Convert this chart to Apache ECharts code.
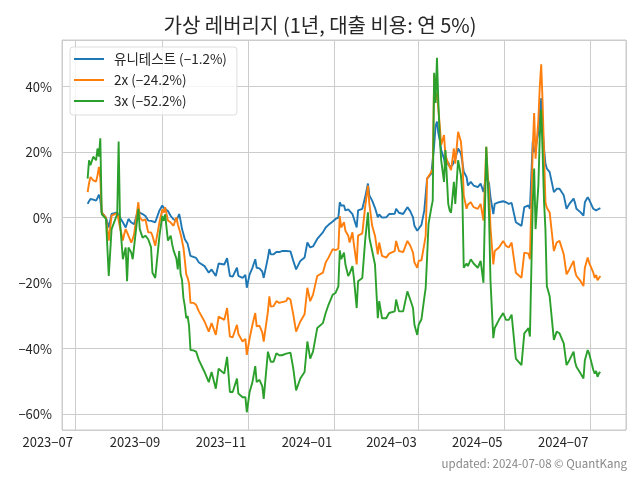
<!DOCTYPE html>
<html><head><meta charset="utf-8">
<script src="https://cdn.jsdelivr.net/npm/echarts@6/dist/echarts.min.js"></script>
<style>html,body{margin:0;padding:0;background:#fff}#c{width:640px;height:480px}</style>
</head><body><div id="c"></div>
<script>
const dates = [
'2023-07-10','2023-07-11','2023-07-12','2023-07-14','2023-07-16','2023-07-17','2023-07-18','2023-07-19','2023-07-20','2023-07-23',
'2023-07-25','2023-07-27','2023-07-31','2023-08-01','2023-08-02','2023-08-04','2023-08-05','2023-08-06','2023-08-07','2023-08-08',
'2023-08-10','2023-08-11','2023-08-12','2023-08-15','2023-08-16','2023-08-18','2023-08-20','2023-08-22','2023-08-24','2023-08-25',
'2023-08-27','2023-08-30','2023-09-01','2023-09-02','2023-09-03','2023-09-05','2023-09-07','2023-09-08','2023-09-09','2023-09-11',
'2023-09-12','2023-09-13','2023-09-14','2023-09-15','2023-09-16','2023-09-17','2023-09-18','2023-09-19','2023-09-20','2023-09-21',
'2023-09-23','2023-09-25','2023-09-27','2023-10-01','2023-10-04','2023-10-06','2023-10-09','2023-10-11','2023-10-12','2023-10-15',
'2023-10-17','2023-10-19','2023-10-21','2023-10-24','2023-10-25','2023-10-28','2023-10-30','2023-10-31','2023-11-02','2023-11-04',
'2023-11-06','2023-11-07','2023-11-09','2023-11-11','2023-11-12','2023-11-15','2023-11-16','2023-11-17','2023-11-19','2023-11-21',
'2023-11-23','2023-11-25','2023-11-28','2023-11-29','2023-12-01','2023-12-03','2023-12-05','2023-12-06','2023-12-08','2023-12-11',
'2023-12-13','2023-12-15','2023-12-17','2023-12-20','2023-12-24','2023-12-26','2023-12-28','2023-12-31','2024-01-02','2024-01-04',
'2024-01-05','2024-01-06','2024-01-08','2024-01-09','2024-01-11','2024-01-12','2024-01-14','2024-01-15','2024-01-17','2024-01-18',
'2024-01-21','2024-01-23','2024-01-25','2024-01-26','2024-01-28','2024-01-30','2024-02-01','2024-02-02','2024-02-04','2024-02-07',
'2024-02-09','2024-02-13','2024-02-14','2024-02-16','2024-02-19','2024-02-20','2024-02-22','2024-02-24','2024-02-26','2024-02-27',
'2024-02-29','2024-03-01','2024-03-03','2024-03-05','2024-03-06','2024-03-07','2024-03-08','2024-03-10','2024-03-11','2024-03-12',
'2024-03-13','2024-03-14','2024-03-15','2024-03-16','2024-03-17','2024-03-19','2024-03-20','2024-03-22','2024-03-23','2024-03-24',
'2024-03-25','2024-03-26','2024-03-27','2024-03-29','2024-03-31','2024-04-01','2024-04-02','2024-04-04','2024-04-05','2024-04-07',
'2024-04-09','2024-04-12','2024-04-14','2024-04-16','2024-04-18','2024-04-19','2024-04-20','2024-04-21','2024-04-23','2024-04-24',
'2024-04-27','2024-04-30','2024-05-02','2024-05-04','2024-05-06','2024-05-09','2024-05-13','2024-05-15','2024-05-18','2024-05-19',
'2024-05-21','2024-05-22','2024-05-23','2024-05-25','2024-05-26','2024-05-27','2024-05-28','2024-05-29','2024-05-30','2024-05-31',
'2024-06-02','2024-06-05','2024-06-07','2024-06-09','2024-06-12','2024-06-14','2024-06-16','2024-06-19','2024-06-20','2024-06-21',
'2024-06-24','2024-06-26','2024-06-27','2024-06-29','2024-06-30','2024-07-03','2024-07-04','2024-07-05','2024-07-06','2024-07-07',
'2024-07-08'
];
const unitValues = [
4.2,5.0,5.7,5.5,5.2,6.0,7.0,5.5,1.6,0.0,
-3.0,1.1,1.6,1.5,0.0,-1.4,-2.0,-3.0,-2.5,-0.4,
-1.5,-2.0,-2.0,2.7,1.5,1.1,0.5,-0.9,-1.0,-1.2,
-1.4,2.2,3.7,3.0,3.4,2.0,0.5,0.1,-0.5,-1.0,
-1.4,1.1,-1.0,-3.5,-5.0,-6.6,-7.0,-8.0,-8.6,-11.7,
-12.0,-12.3,-13.7,-14.8,-16.8,-15.8,-17.8,-14.0,-14.5,-14.3,
-12.4,-17.8,-18.0,-15.3,-17.8,-18.4,-17.5,-21.4,-17.3,-15.3,
-12.7,-15.3,-15.5,-16.5,-18.4,-12.2,-9.6,-11.2,-11.2,-10.5,
-10.5,-10.2,-10.2,-9.9,-10.3,-13.2,-15.8,-15.8,-13.2,-12.2,
-7.6,-9.1,-8.8,-6.5,-4.5,-3.0,-2.2,-1.2,-0.4,0.0,
4.7,3.7,3.7,2.2,2.5,2.5,1.1,1.5,-3.0,2.2,
2.7,6.2,10.4,6.8,5.2,3.0,0.1,1.0,0.0,0.1,
1.1,1.2,2.7,1.5,1.1,1.0,3.2,2.0,0.1,-2.5,
-4.0,-3.5,-2.2,2.2,2.7,11.9,12.5,13.4,14.0,22.0,
27.8,29.3,25.7,23.7,20.6,18.0,15.5,17.0,15.5,15.0,
16.0,16.5,18.0,21.1,19.6,17.0,14.0,12.4,9.8,10.9,
9.8,9.3,10.4,7.8,12.9,11.5,10.4,6.2,1.1,4.2,
4.7,5.0,4.7,4.2,4.5,-1.4,-2.5,3.2,3.7,2.7,
23.2,20.0,21.1,26.2,32.0,36.5,27.3,21.0,16.5,15.0,
13.9,7.8,8.8,8.8,6.8,2.7,4.2,5.8,4.5,2.7,
1.6,0.6,4.7,6.2,5.5,2.7,3.0,2.2,2.5,2.7,
2.9
];
const x2Values = [
7.8,10.5,12.4,11.4,11.0,12.9,15.5,12.0,1.5,0.0,
-7.0,0.6,1.4,2.0,-3.0,-7.0,-5.0,-3.5,-4.5,-4.0,
-7.6,-6.5,-5.0,4.7,0.0,-0.9,-0.5,-4.5,-4.5,-5.5,
-8.6,-1.4,2.5,1.5,3.2,-0.9,-1.5,-2.0,-2.5,0.1,
-2.0,-2.5,-5.0,-7.0,-9.1,-13.0,-17.3,-18.4,-20.0,-26.0,
-26.0,-26.6,-28.6,-31.7,-34.8,-32.2,-35.8,-30.2,-30.5,-31.2,
-27.6,-36.3,-36.5,-32.7,-35.5,-37.8,-37.0,-41.9,-36.8,-32.7,
-29.1,-33.2,-33.0,-35.0,-37.8,-28.6,-24.0,-27.1,-27.0,-25.5,
-26.0,-25.8,-25.5,-24.5,-25.0,-29.6,-34.8,-35.3,-31.7,-29.5,
-21.4,-25.5,-23.5,-17.8,-16.8,-13.7,-12.2,-9.6,-9.9,-9.5,
0.5,-3.0,-1.4,-4.0,-5.5,-7.6,-4.5,-8.1,-14.3,-5.5,
-4.8,3.2,9.8,4.2,-2.5,-5.5,-11.2,-7.6,-11.7,-12.2,
-11.0,-10.2,-7.1,-10.2,-10.5,-10.7,-7.1,-8.5,-10.7,-13.7,
-15.3,-13.2,-13.0,-8.1,-5.5,11.9,12.5,13.9,15.0,43.7,
36.0,38.0,33.0,28.0,22.2,25.2,19.0,16.5,15.5,14.5,
13.9,21.1,16.5,26.2,23.2,18.0,6.8,2.7,4.0,4.7,
3.2,2.7,4.2,-0.9,21.6,13.4,8.0,-3.0,-14.3,-10.2,
-9.1,-7.1,-8.6,-9.1,-7.6,-16.8,-18.4,-10.7,-11.0,-12.7,
21.1,31.9,18.0,30.0,40.0,46.8,35.0,20.1,4.7,3.0,
1.6,-10.2,-7.6,-7.1,-11.2,-17.3,-15.8,-13.2,-16.3,-17.8,
-19.4,-20.9,-15.3,-12.2,-13.7,-16.8,-18.4,-17.5,-19.1,-18.5,
-17.8
];
const x3Values = [
11.9,17.5,16.0,18.6,17.5,21.1,18.6,24.2,1.1,-0.4,
-17.8,-3.5,1.1,23.2,-1.4,-12.7,-12.5,-9.1,-19.4,-9.1,
-10.7,-12.7,-13.2,2.7,-3.5,-6.1,-5.5,-6.6,-9.0,-16.8,
-18.4,-5.5,0.5,-1.0,1.0,-7.0,-5.5,-8.1,-10.0,-12.5,
-15.8,-10.2,-17.3,-19.0,-24.5,-27.0,-30.7,-30.0,-33.0,-40.4,
-40.5,-40.9,-43.5,-47.1,-50.2,-47.1,-52.2,-46.1,-46.5,-47.6,
-42.5,-53.2,-53.2,-49.1,-53.7,-54.8,-54.8,-59.4,-53.2,-50.2,
-45.3,-50.2,-49.5,-51.5,-55.3,-40.9,-40.4,-44.0,-44.0,-41.4,
-42.0,-42.0,-41.5,-40.9,-41.2,-46.1,-52.7,-53.2,-49.1,-47.1,
-37.8,-43.0,-40.9,-33.7,-32.2,-29.1,-26.6,-23.5,-23.0,-21.0,
-10.0,-12.7,-10.7,-14.3,-17.8,-17.0,-14.8,-18.4,-27.6,-19.4,
-18.4,-7.1,1.6,-6.1,-10.2,-14.3,-30.7,-25.5,-30.7,-30.7,
-29.1,-28.6,-25.0,-28.6,-28.6,-29.1,-22.5,-25.0,-27.6,-32.7,
-35.8,-32.7,-31.0,-24.5,-21.4,-12.0,-1.9,3.0,5.2,44.2,
35.0,48.8,35.0,24.2,17.5,10.9,20.6,4.2,2.2,1.5,
1.1,10.9,4.2,17.5,12.9,7.3,-15.3,-14.0,-14.8,-12.7,
-14.0,-15.3,-13.2,-19.9,21.6,12.0,0.0,-19.4,-36.8,-33.7,
-31.2,-29.1,-31.2,-31.2,-29.6,-43.0,-45.0,-35.3,-33.7,-36.3,
4.7,15.0,-3.5,10.0,25.0,33.0,20.0,5.0,-3.5,-20.9,
-24.0,-37.3,-34.8,-35.3,-38.4,-45.0,-43.5,-40.9,-44.0,-45.5,
-47.6,-49.1,-43.5,-40.4,-41.4,-46.5,-47.6,-46.8,-48.6,-47.5,
-47.1
];
const seriesNames = ['유니테스트 (−1.2%)', '2x (−24.2%)', '3x (−52.2%)'];
const seriesColors = ['#1f77b4', '#ff7f0e', '#2ca02c'];
const titleText = '가상 레버리지 (1년, 대출 비용: 연 5%)';
const footerText = 'updated: 2024-07-08 © QuantKang';

const FONT = '"Noto Sans CJK KR", "Noto Sans", sans-serif';
const t0 = new Date(dates[0]).getTime();
const t1 = new Date(dates[dates.length - 1]).getTime();
const xPad = (t1 - t0) * 0.05;
const allVals = unitValues.concat(x2Values, x3Values);
const vMin = Math.min(...allVals), vMax = Math.max(...allVals);
const yPad = (vMax - vMin) * 0.05;

function fmtPct(v) { return (v < 0 ? '\u2212' : '') + Math.abs(Math.round(v)) + '%'; }
function fmtMonth(v) {
  const d = new Date(v);
  return d.getFullYear() + '\u2212' + String(d.getMonth() + 1).padStart(2, '0');
}

const chart = echarts.init(document.getElementById('c'), null, {renderer: 'canvas'});
const valsList = [unitValues, x2Values, x3Values];
chart.setOption({
  animation: false,
  backgroundColor: '#fff',
  textStyle: {fontFamily: FONT},
  title: [
    {text: titleText, left: 'center', top: 10,
     textStyle: {fontFamily: FONT, fontSize: 20, fontWeight: 'normal', color: '#262626'}},
    {text: footerText, right: 13, bottom: 11, padding: 0,
     textStyle: {fontFamily: FONT, fontSize: 11.5, fontWeight: 'normal', color: '#888'}}
  ],
  legend: {
    orient: 'vertical', left: 70, top: 47,
    padding: [4, 10, 6, 4], itemGap: 5,
    itemWidth: 30, itemHeight: 2, icon: 'rect',
    backgroundColor: 'rgba(255,255,255,0.8)', borderColor: '#dddddd', borderWidth: 1, borderRadius: 3,
    textStyle: {fontFamily: FONT, fontSize: 13.5, color: '#262626', lineHeight: 16, padding: [0, 0, 0, 5]},
    data: seriesNames
  },
  grid: {left: 62, right: 14, top: 40, bottom: 50, show: true, borderColor: '#cccccc', borderWidth: 1},
  xAxis: {
    type: 'time', min: t0 - xPad, max: t1 + xPad, splitNumber: 6,
    axisLine: {show: false}, axisTick: {show: false},
    axisLabel: {formatter: fmtMonth, fontFamily: FONT, fontSize: 13, color: '#262626', margin: 6,
                align: 'right', padding: [0, 2, 0, 0],
                showMinLabel: false, showMaxLabel: false},
    splitLine: {show: true, lineStyle: {color: '#cccccc', width: 1}}
  },
  yAxis: {
    type: 'value', min: vMin - yPad, max: vMax + yPad, splitNumber: 6,
    axisLine: {show: false}, axisTick: {show: false},
    axisLabel: {formatter: fmtPct, fontFamily: FONT, fontSize: 13, color: '#262626', margin: 10,
                showMinLabel: false, showMaxLabel: false},
    splitLine: {show: true, lineStyle: {color: '#cccccc', width: 1}}
  },
  series: seriesNames.map((n, k) => ({
    name: n, type: 'line', showSymbol: false, symbol: 'none',
    color: seriesColors[k],
    lineStyle: {width: 1.9, color: seriesColors[k]},
    data: dates.map((d, i) => [d, valsList[k][i]])
  }))
});
</script></body></html>
